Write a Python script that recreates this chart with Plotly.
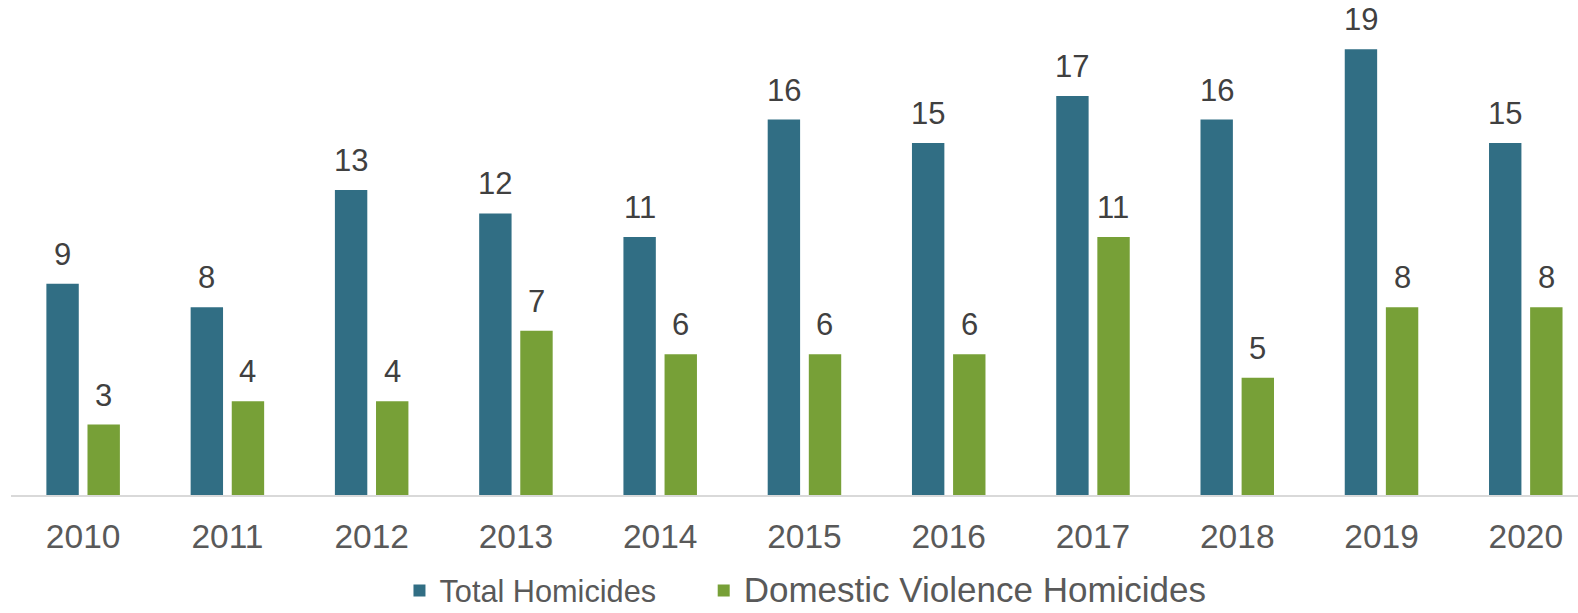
import plotly.graph_objects as go

years = ["2010", "2011", "2012", "2013", "2014", "2015", "2016", "2017", "2018", "2019", "2020"]
total_homicides = [9, 8, 13, 12, 11, 16, 15, 17, 16, 19, 15]
dv_homicides = [3, 4, 4, 7, 6, 6, 6, 11, 5, 8, 8]

teal = "#316E84"
green = "#77A037"
label_color = "#404040"
tick_color = "#595959"
font_family = "Liberation Sans, Arial, sans-serif"

fig = go.Figure()
fig.add_trace(go.Bar(
    x=years, y=total_homicides,
    name="Total Homicides" + "&nbsp;" * 5,
    marker=dict(color=teal, line=dict(width=0)),
))
fig.add_trace(go.Bar(
    x=years, y=dv_homicides,
    name="<span style='font-size:35px'>Domestic Violence Homicides</span>",
    marker=dict(color=green, line=dict(width=0)),
))

# value labels above each bar (x given as category index, offset to each bar of the pair)
for series, shift in ((total_homicides, -20.5), (dv_homicides, 20.5)):
    for i, v in enumerate(series):
        fig.add_annotation(
            x=i, y=v, xref="x", yref="y", text=str(v), showarrow=False,
            xshift=shift, yshift=10, yanchor="bottom",
            font=dict(size=31, color=label_color, family=font_family),
        )

fig.update_layout(
    width=1578, height=613,
    margin=dict(l=11, r=0, t=14, b=118),
    paper_bgcolor="white", plot_bgcolor="white",
    barmode="group", bargap=0.43, bargroupgap=0.212,
    font=dict(family=font_family, color=tick_color),
    showlegend=True,
    legend=dict(
        orientation="h", x=0.507, xanchor="center",
        yref="container", y=0.08, yanchor="top",
        font=dict(size=30.7, color=tick_color, family=font_family),
    ),
    xaxis=dict(
        type="category", range=[-0.5, 10.362],
        showline=True, linecolor="#D9D9D9", linewidth=2,
        showgrid=False, ticks="", ticklabelstandoff=11,
        tickfont=dict(size=33.5, color=tick_color),
        fixedrange=True,
    ),
    yaxis=dict(range=[0, 20.5], visible=False, showgrid=False, zeroline=False),
)

fig.write_html("out.html")
